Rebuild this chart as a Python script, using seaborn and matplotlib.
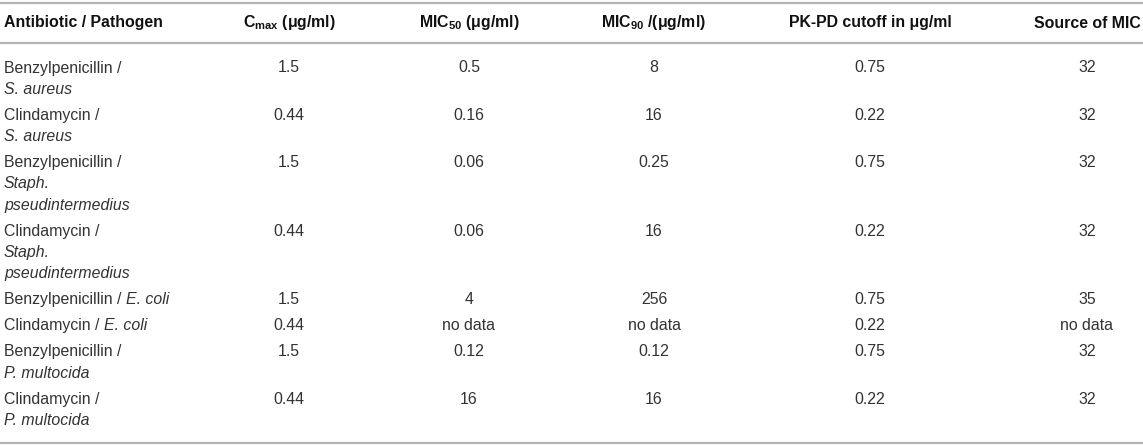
import pandas as pd
import matplotlib.pyplot as plt
import seaborn as sns

# Table content
antibiotics = ["Benzylpenicillin", "Clindamycin", "Benzylpenicillin", "Clindamycin",
               "Benzylpenicillin", "Clindamycin", "Benzylpenicillin", "Clindamycin"]
pathogens = ["S. aureus", "S. aureus", "Staph. pseudintermedius", "Staph. pseudintermedius",
             "E. coli", "E. coli", "P. multocida", "P. multocida"]
cmax = ["1.5", "0.44", "1.5", "0.44", "1.5", "0.44", "1.5", "0.44"]
mic50 = ["0.5", "0.16", "0.06", "0.06", "4", "no data", "0.12", "16"]
mic90 = ["8", "16", "0.25", "16", "256", "no data", "0.12", "16"]
pkpd_cutoff = ["0.75", "0.22", "0.75", "0.22", "0.75", "0.22", "0.75", "0.22"]
mic_source = ["32", "32", "32", "32", "35", "no data", "32", "32"]

headers = ["Antibiotic / Pathogen",
           r"C$_{\mathregular{max}}$ (μg/ml)",
           r"MIC$_{\mathregular{50}}$ (μg/ml)",
           r"MIC$_{\mathregular{90}}$ /(μg/ml)",
           "PK-PD cutoff in μg/ml",
           "Source of MIC"]

df = pd.DataFrame({"antibiotic": antibiotics, "pathogen": pathogens, "cmax": cmax,
                   "mic50": mic50, "mic90": mic90, "pkpd": pkpd_cutoff, "source": mic_source})

sns.set_theme(style="white")
plt.rcParams['font.family'] = ['Liberation Sans', 'DejaVu Sans']
plt.rcParams['mathtext.fontset'] = 'custom'
plt.rcParams['mathtext.rm'] = 'Liberation Sans'
plt.rcParams['mathtext.it'] = 'Liberation Sans:italic'
plt.rcParams['mathtext.bf'] = 'Liberation Sans:bold'

W, H = 1143, 446
fig = plt.figure(figsize=(W / 100, H / 100), dpi=100)
ax = fig.add_axes([0, 0, 1, 1])
ax.set_xlim(0, W)
ax.set_ylim(H, 0)
ax.axis('off')
renderer = fig.canvas.get_renderer()

fs = 11.4
body_color = '#333333'
head_color = '#111111'
rule_color = '#b4b4b4'

# column layout (pixel units)
first_x = 4
col_x = [289, 469, 654, 870, 1087]
value_cols = ["cmax", "mic50", "mic90", "pkpd", "source"]

# horizontal rules
for yr in [3, 43, 443]:
    ax.axhline(yr, color=rule_color, lw=1.6)

# header
ax.text(first_x, 23, headers[0], fontsize=fs, fontweight='bold', color=head_color, va='center')
for x, h in zip(col_x, headers[1:]):
    ax.text(x, 23, h, fontsize=fs, fontweight='bold', color=head_color, va='center', ha='center')


def label_lines(ab, pa):
    # list of lines, each a list of (text, italic) pieces
    if pa == "E. coli":
        return [[(ab + " / ", False), (pa, True)]]
    lines = [[(ab + " /", False)]]
    if pa.startswith("Staph."):
        lines += [[(w, True)] for w in pa.split(" ")]
    else:
        lines.append([(pa, True)])
    return lines


line_h = 21.3
row_gap = 26
y = 68
for _, r in df.iterrows():
    lines = label_lines(r["antibiotic"], r["pathogen"])
    for i, pieces in enumerate(lines):
        x = first_x
        for txt, it in pieces:
            t = ax.text(x, y + i * line_h, txt, fontsize=fs, color=body_color, va='center',
                        style='italic' if it else 'normal')
            bb = t.get_window_extent(renderer=renderer)
            x += bb.width
    for x, c in zip(col_x, value_cols):
        ax.text(x, y, r[c], fontsize=fs, color=body_color, va='center', ha='center')
    y += (len(lines) - 1) * line_h + row_gap

fig.savefig("out.png", dpi=100)
